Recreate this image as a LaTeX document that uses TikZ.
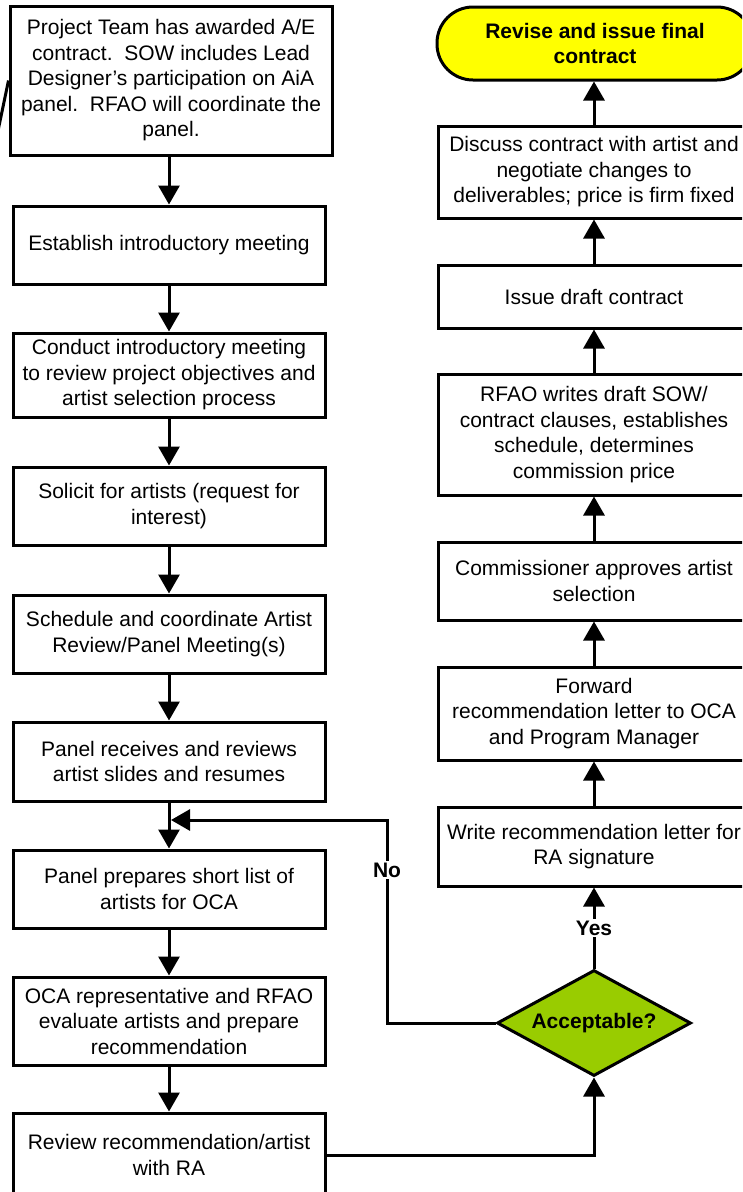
\documentclass[tikz,border=0pt]{standalone}
\usepackage{fontspec}
\setmainfont{Liberation Sans}
\usetikzlibrary{arrows.meta,shapes.geometric}
\definecolor{termyellow}{HTML}{FFFF00}
\definecolor{decgreen}{HTML}{99CC00}
\tikzset{
  box/.style={draw, line width=3pt, fill=white, minimum width=312pt, inner sep=0pt,
    align=center, font=\fontsize{21}{25.5}\selectfont},
  term/.style={box, fill=termyellow, minimum width=316pt, rounded corners=36pt,
    font=\fontsize{21}{25.5}\selectfont\bfseries},
  dec/.style={diamond, draw, line width=3pt, fill=decgreen, aspect=1.83,
    minimum width=194pt, minimum height=106pt, inner sep=0pt,
    font=\fontsize{21}{25.5}\selectfont\bfseries},
  arr/.style={line width=3pt, -{Triangle[width=21pt,length=19pt]}},
  plain/.style={line width=3pt},
  lab/.style={fill=white, inner sep=2pt, font=\fontsize{21}{25.5}\selectfont\bfseries},
}
\begin{document}
\begin{tikzpicture}[x=1pt,y=-1pt]
\useasboundingbox (0,0) rectangle (742,1192);
\clip (0,0) rectangle (742,1192);
\fill[white] (0,0) rectangle (742,1192);

% left column
\node[box, minimum width=322pt, minimum height=149pt] (b1) at (171,80.5)
  {Project Team has awarded A/E\\contract.\ \ SOW includes Lead\\Designer’s participation on AiA\\panel.\ \ RFAO will coordinate the\\panel.};
\node[box, minimum height=78pt] (b2) at (169,245) {Establish introductory meeting};
\node[box, minimum height=84pt] (b3) at (169,375) {Conduct introductory meeting\\to review project objectives and\\artist selection process};
\node[box, minimum height=78pt] (b4) at (169,506) {Solicit for artists (request for\\interest)};
\node[box, minimum height=78pt] (b5) at (169,634) {Schedule and coordinate Artist\\Review/Panel Meeting(s)};
\node[box, minimum height=79pt] (b6) at (169,761.5) {Panel receives and reviews\\artist slides and resumes};
\node[box, minimum height=78pt] (b7) at (169,889) {Panel prepares short list of\\artists for OCA};
\node[box, minimum height=88pt] (b8) at (169,1021) {OCA representative and RFAO\\evaluate artists and prepare\\recommendation};
\node[box, minimum height=84pt] (b9) at (169,1155) {Review recommendation/artist\\with RA};

% right column
\node[term, minimum height=73pt] (t) at (595,43.5) {Revise and issue final\\contract};
\node[box, minimum height=92pt] (r1) at (594,172) {Discuss contract with artist and\\negotiate changes to\\deliverables; price is firm fixed};
\node[box, minimum height=63pt] (r2) at (594,296.5) {Issue draft contract};
\node[box, minimum height=121pt] (r3) at (594,434.5) {RFAO writes draft SOW/\\contract clauses, establishes\\schedule, determines\\commission price};
\node[box, minimum height=78pt] (r4) at (594,581) {Commissioner approves artist\\selection};
\node[box, minimum height=93pt] (r5) at (594,713.5) {Forward\\recommendation letter to OCA\\and Program Manager};
\node[box, minimum height=79pt] (r6) at (594,846.5) {Write recommendation letter for\\RA signature};
\node[dec] (d) at (594,1023) {Acceptable?};

% stray connector leaving the first box
\coordinate (s0) at (-6,150);
\draw[plain] (b1.west) -- (s0);

% left column arrows
\draw[arr] (b1.south -| b2.north) -- (b2.north);
\draw[arr] (b2) -- (b3);
\draw[arr] (b3) -- (b4);
\draw[arr] (b4) -- (b5);
\draw[arr] (b5) -- (b6);
\draw[arr] (b6) -- (b7);
\draw[arr] (b7) -- (b8);
\draw[arr] (b8) -- (b9);

% to decision
\draw[arr] (b9.east) -| (d.south);
\draw[arr] (d.north) -- node[lab] (yes) {Yes} (r6.south);

% right column arrows
\draw[arr] (r6) -- (r5);
\draw[arr] (r5) -- (r4);
\draw[arr] (r4) -- (r3);
\draw[arr] (r3) -- (r2);
\draw[arr] (r2) -- (r1);
\draw[arr] (r1.north) -- (r1.north |- t.south);

% No loop
\coordinate (nc) at (387,820);
\coordinate (m) at (171,820);
\draw[arr] (d.west) -| (nc) -- (m);
\node[lab] (no) at (387,870) {No};
\end{tikzpicture}
\end{document}
